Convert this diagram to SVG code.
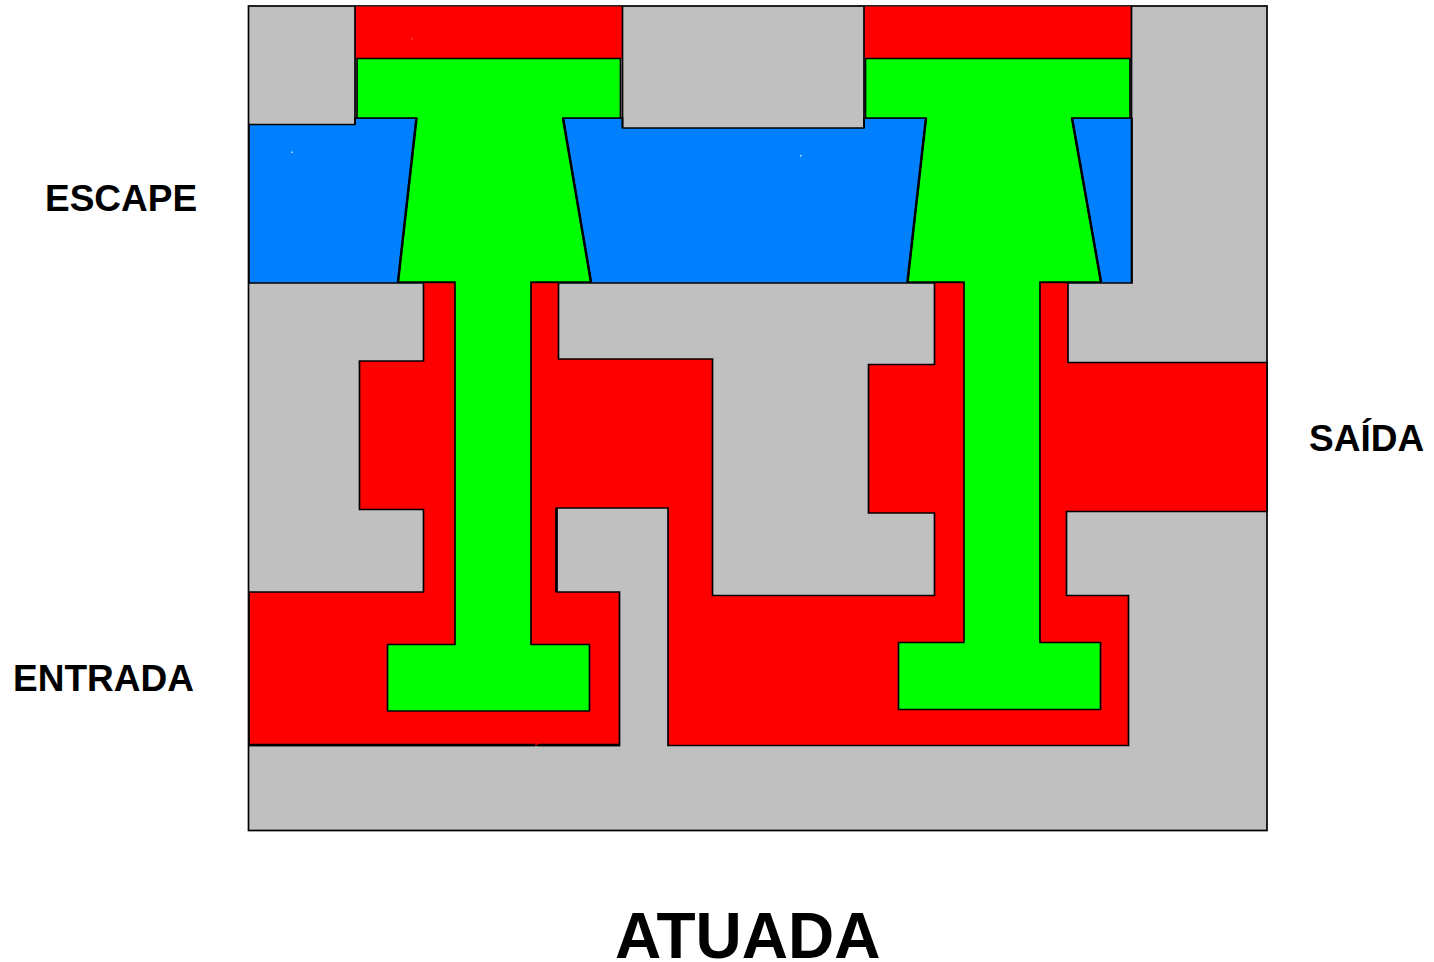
<svg xmlns="http://www.w3.org/2000/svg" width="1434" height="962" viewBox="0 0 1434 962">
<style>
.s{stroke:#000;stroke-width:1.7;stroke-linejoin:miter}
.r{fill:#ff0000}.g{fill:#00ff00}.b{fill:#0080ff}
.e{stroke:#000;fill:none}
.t{font-family:"Liberation Sans",Arial,sans-serif;font-weight:bold;fill:#000}
</style>
<rect width="1434" height="962" fill="#fff"/>
<rect x="248.500" y="6" width="1018.500" height="824.500" fill="#c0c0c0" stroke="#000" stroke-width="1.700"/>
<g id="escape-chamber">
<path class="b s" d="M249 124.500H355V118H622.500V128H864V118H1132V283H249Z"/>
<rect x="291" y="151.500" width="1.500" height="1.500" fill="#d0e8ff"/>
<rect x="800" y="155" width="1.500" height="1.500" fill="#d0e8ff"/>
</g>
<g id="top-left-red"><rect class="r" x="355" y="6.500" width="267.500" height="52"/><rect x="411" y="38" width="1.500" height="1.500" fill="#ff5050"/><path class="e" stroke-width="1.700" d="M355 6V124M622.500 6V128"/></g>
<g id="top-right-red"><rect class="r" x="864" y="6.500" width="267.500" height="52"/><path class="e" stroke-width="1.700" d="M864 6V128M1131.500 6V283"/></g>
<g id="left-pressure-channel">
<path class="r s" d="M423.500 282.500H558.500V359H712.500V595.500H934.500V513H868.500V364.500H934.500V282.500H1068V362.500H1267V511.500H1066.500V595.500H1128.500V745.500H668V508H556.500V592H619.500V745.500H249V592H423.500V509.500H359.500V361H423.500Z"/>
<path class="e" stroke-width="2.600" d="M249 745H535M538 745H620M556.500 508V592"/>
</g>
<g id="left-valve">
<path class="g s" d="M357 58.500H620.500V118H563L591 282H531V644.500H589.500V711H387.500V644.500H455V282H398L416.500 118H357Z"/>
<path class="e" stroke-width="2.500" d="M416.500 118L398 282M563 118L591 282"/>
</g>
<g id="right-valve">
<path class="g s" d="M865.500 58.500H1130V118H1072L1101 282H1040V642.500H1100.500V709.500H898.500V642.500H964V282H907.500L926 118H865.500Z"/>
<path class="e" stroke-width="2.500" d="M926 118L907.500 282M1072 118L1101 282"/>
</g>
<text class="t" x="45" y="211" font-size="37">ESCAPE</text>
<text class="t" x="13" y="691" font-size="37">ENTRADA</text>
<text class="t" x="1309" y="451" font-size="37">SAÍDA</text>
<text class="t" x="615" y="958" font-size="64">ATUADA</text>
</svg>
